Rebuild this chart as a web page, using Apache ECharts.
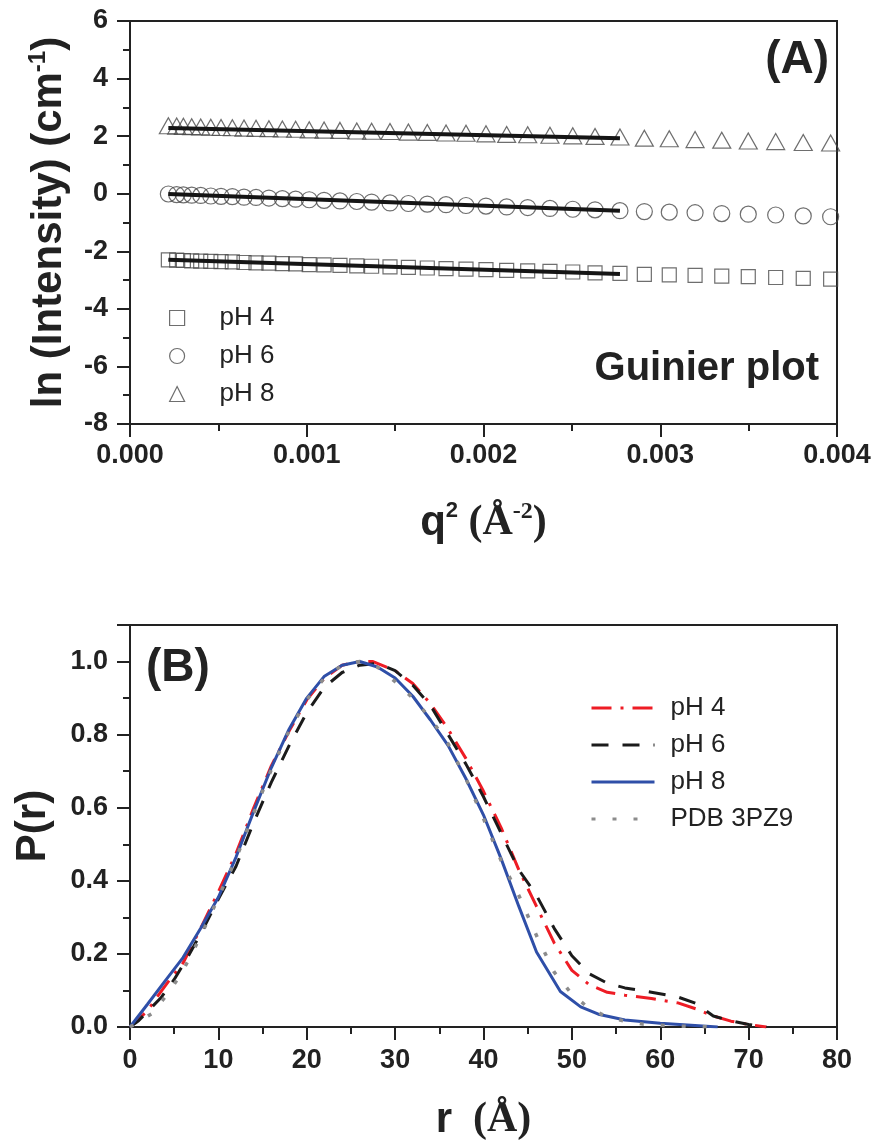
<!DOCTYPE html>
<html>
<head>
<meta charset="utf-8">
<script src="https://cdn.jsdelivr.net/npm/echarts@6/dist/echarts.min.js"></script>
<style>
html, body { margin: 0; padding: 0; background: #fff; }
#chart { width: 880px; height: 1147px; }
</style>
</head>
<body>
<div id="chart"></div>
<script>
// (A) Guinier plot: q^2 positions and ln(I) for each pH
var q2 = [0.000217, 0.000264, 0.000302, 0.000349, 0.000400, 0.000457, 0.000515, 0.000579,
  0.000645, 0.000713, 0.000786, 0.000862, 0.000937, 0.001014, 0.001098, 0.001188, 0.001283,
  0.001367, 0.001471, 0.001575, 0.001682, 0.001788, 0.001901, 0.002014, 0.002131, 0.002250,
  0.002376, 0.002505, 0.002631, 0.002772, 0.002910, 0.003051, 0.003197, 0.003348, 0.003498,
  0.003653, 0.003809, 0.003964];
var lnI_pH4 = [-2.30, -2.31, -2.32, -2.33, -2.34, -2.35, -2.36, -2.37, -2.39, -2.40, -2.41, -2.43,
  -2.44, -2.46, -2.47, -2.49, -2.51, -2.52, -2.54, -2.56, -2.58, -2.60, -2.62, -2.64, -2.66, -2.68,
  -2.70, -2.72, -2.75, -2.77, -2.80, -2.82, -2.84, -2.86, -2.88, -2.91, -2.94, -2.97];
var lnI_pH6 = [-0.01, -0.03, -0.04, -0.05, -0.06, -0.08, -0.09, -0.10, -0.12, -0.13, -0.15, -0.17,
  -0.19, -0.21, -0.23, -0.25, -0.27, -0.29, -0.32, -0.34, -0.36, -0.38, -0.41, -0.43, -0.46, -0.48,
  -0.51, -0.54, -0.56, -0.59, -0.62, -0.64, -0.66, -0.69, -0.71, -0.74, -0.77, -0.80];
var lnI_pH8 = [2.36, 2.35, 2.34, 2.33, 2.32, 2.31, 2.30, 2.29, 2.28, 2.27, 2.26, 2.25, 2.24, 2.22,
  2.21, 2.20, 2.18, 2.17, 2.16, 2.14, 2.13, 2.11, 2.10, 2.08, 2.06, 2.05, 2.03, 2.01, 1.99, 1.97,
  1.93, 1.91, 1.88, 1.86, 1.83, 1.81, 1.78, 1.76];
// linear Guinier fits (end points)
var fitQ2 = [0.000217, 0.002772];
var fit_pH4 = [-2.29, -2.79];
var fit_pH6 = [-0.01, -0.59];
var fit_pH8 = [2.28, 1.93];

// (B) pair distance distribution P(r)
var r_pH4 = [0, 2, 3, 4.5, 6, 8, 10, 12, 14, 16, 18, 20, 22, 24, 26, 27.5, 30, 32, 34, 36, 38, 40,
  42, 44, 46, 48, 50, 52, 54, 56, 59, 62, 64, 66, 68, 70, 72];
var p_pH4 = [0, 0.045, 0.08, 0.13, 0.175, 0.27, 0.37, 0.475, 0.6, 0.715, 0.81, 0.895, 0.955, 0.99,
  1.0, 1.0, 0.975, 0.94, 0.885, 0.815, 0.735, 0.645, 0.545, 0.43, 0.33, 0.23, 0.155, 0.115, 0.095,
  0.087, 0.078, 0.066, 0.05, 0.03, 0.016, 0.007, 0];
var r_pH6 = [0, 1, 3.5, 5, 6.5, 8, 10, 12, 14, 16, 18, 20, 22, 24, 26, 28, 30, 32, 34, 36, 38, 40,
  42, 44, 46, 48, 50, 52, 54, 56, 59, 62, 64, 66, 68, 70, 72];
var p_pH6 = [0, 0.018, 0.08, 0.13, 0.19, 0.255, 0.35, 0.44, 0.56, 0.67, 0.77, 0.86, 0.93, 0.97,
  0.99, 0.995, 0.975, 0.935, 0.88, 0.8, 0.72, 0.63, 0.53, 0.43, 0.36, 0.27, 0.195, 0.145, 0.12,
  0.107, 0.095, 0.082, 0.065, 0.03, 0.017, 0.007, 0];
var r_pH8 = [0, 2, 4, 6, 8, 10, 12, 14, 16, 18, 20, 22, 24, 26, 28, 30, 32, 34, 36, 38, 40, 42, 44,
  46, 48.7, 51, 53, 56, 60, 63.5, 66.5];
var p_pH8 = [0, 0.063, 0.127, 0.19, 0.27, 0.355, 0.465, 0.59, 0.71, 0.815, 0.9, 0.96, 0.99, 1.0,
  0.985, 0.955, 0.905, 0.84, 0.77, 0.68, 0.58, 0.46, 0.33, 0.205, 0.097, 0.055, 0.035, 0.019, 0.01,
  0.005, 0];
var r_pdb = [0, 2.5, 4.3, 5.7, 7, 8, 9, 10, 12, 14, 16, 18, 20, 22, 24, 26, 28, 30, 32, 34, 36, 38,
  40, 42, 44, 46, 48, 50, 52, 54, 56, 58, 61, 64, 66];
var p_pdb = [0, 0.037, 0.092, 0.142, 0.2, 0.25, 0.3, 0.355, 0.46, 0.585, 0.705, 0.81, 0.895, 0.955,
  0.99, 1.0, 0.985, 0.945, 0.9, 0.845, 0.775, 0.68, 0.57, 0.455, 0.36, 0.25, 0.15, 0.09, 0.05,
  0.028, 0.016, 0.008, 0.003, 0.001, 0];

var SANS = "'Liberation Sans', Arial, Helvetica, sans-serif";
var SERIF = "'Liberation Serif', 'Times New Roman', serif";
var INK = '#222';

function pairs(xs, ys) {
  return xs.map(function (x, i) { return [x, ys[i]]; });
}

// common axis look: outward ticks, minor ticks, bold labels
function axisStyle(extra) {
  var a = {
    type: 'value',
    axisLine: { show: true, onZero: false, lineStyle: { color: INK, width: 2 } },
    axisTick: { show: true, inside: false, length: 13, lineStyle: { color: INK, width: 2 } },
    minorTick: { show: true, splitNumber: 2, length: 7, lineStyle: { color: INK, width: 2 } },
    splitLine: { show: false },
    axisLabel: { color: INK, fontFamily: SANS, fontWeight: 'bold', fontSize: 27 },
    nameLocation: 'middle'
  };
  for (var k in extra) a[k] = extra[k];
  return a;
}

var chart = echarts.init(document.getElementById('chart'));

var markerStyle = { color: 'rgba(0,0,0,0)', borderColor: '#4a4a4a', borderWidth: 1.2 };

chart.setOption({
  animation: false,
  grid: [
    { left: 130, right: 43, top: 21, height: 403, show: true, borderColor: INK, borderWidth: 2 },
    { left: 130, right: 43, top: 625, height: 402, show: true, borderColor: INK, borderWidth: 2 }
  ],
  xAxis: [
    axisStyle({
      gridIndex: 0, min: 0, max: 0.004, interval: 0.001,
      axisLabel: { color: INK, fontFamily: SANS, fontWeight: 'bold', fontSize: 27, margin: 18,
        formatter: function (v) { return v.toFixed(3); } },
      name: '{q|q}{s|2}{a| (Å}{t|-2}{a|)}',
      nameGap: 76,
      nameTextStyle: {
        rich: {
          q: { fontFamily: SANS, fontWeight: 'bold', fontSize: 42, lineHeight: 46, color: INK },
          s: { fontFamily: SANS, fontWeight: 'bold', fontSize: 22, lineHeight: 46, verticalAlign: 'top', color: INK },
          a: { fontFamily: SERIF, fontWeight: 'bold', fontSize: 42, lineHeight: 46, color: INK },
          t: { fontFamily: SERIF, fontWeight: 'bold', fontSize: 24, lineHeight: 46, verticalAlign: 'top', color: INK }
        }
      }
    }),
    axisStyle({
      gridIndex: 1, min: 0, max: 80, interval: 10,
      axisLabel: { color: INK, fontFamily: SANS, fontWeight: 'bold', fontSize: 27, margin: 20 },
      name: '{q|r}{a|  (Å)}',
      nameGap: 70,
      nameTextStyle: {
        rich: {
          q: { fontFamily: SANS, fontWeight: 'bold', fontSize: 42, lineHeight: 46, color: INK },
          a: { fontFamily: SERIF, fontWeight: 'bold', fontSize: 42, lineHeight: 46, color: INK }
        }
      }
    })
  ],
  yAxis: [
    axisStyle({
      gridIndex: 0, min: -8, max: 6, interval: 2,
      axisLabel: { color: INK, fontFamily: SANS, fontWeight: 'bold', fontSize: 27, margin: 22 },
      name: '{t|ln (Intensity) (cm}{s|-1}{t|)}',
      nameGap: 58,
      nameTextStyle: {
        rich: {
          t: { fontFamily: SANS, fontWeight: 'bold', fontSize: 42, lineHeight: 46, color: INK },
          s: { fontFamily: SANS, fontWeight: 'bold', fontSize: 24, lineHeight: 46, verticalAlign: 'top', color: INK }
        }
      }
    }),
    axisStyle({
      gridIndex: 1, min: 0, max: 1.1, interval: 0.2,
      axisLabel: { color: INK, fontFamily: SANS, fontWeight: 'bold', fontSize: 27, margin: 22,
        showMaxLabel: false,
        formatter: function (v) { return v.toFixed(1); } },
      name: 'P(r)',
      nameGap: 76,
      nameTextStyle: { fontFamily: SANS, fontWeight: 'bold', fontSize: 42, color: INK }
    })
  ],
  legend: [
    {
      data: ['pH 4', 'pH 6', 'pH 8'],
      orient: 'vertical', left: 164, top: 300,
      itemWidth: 15, itemHeight: 15, itemGap: 12,
      itemStyle: { color: 'rgba(0,0,0,0)', borderColor: '#4a4a4a', borderWidth: 1.2 },
      textStyle: { fontFamily: SANS, fontSize: 26, lineHeight: 26, color: INK, padding: [0, 0, 0, 30] },
      selectedMode: false
    },
    {
      data: ['B pH 4', 'B pH 6', 'B pH 8', 'B PDB 3PZ9'],
      formatter: function (name) { return name.slice(2); },
      orient: 'vertical', left: 585, top: 690,
      itemWidth: 63, itemHeight: 14, itemGap: 11,
      itemStyle: { opacity: 0 },
      lineStyle: { width: 3 },
      textStyle: { fontFamily: SANS, fontSize: 26, lineHeight: 26, color: INK, padding: [0, 0, 0, 11] },
      selectedMode: false
    }
  ],
  graphic: [
    { type: 'text', x: 829, y: 60, style: { text: '(A)', fontFamily: SANS, fontWeight: 'bold',
      fontSize: 46, fill: INK, align: 'right', verticalAlign: 'middle' } },
    { type: 'text', x: 819, y: 369, style: { text: 'Guinier plot', fontFamily: SANS, fontWeight: 'bold',
      fontSize: 40, fill: INK, align: 'right', verticalAlign: 'middle' } },
    { type: 'text', x: 146, y: 668, style: { text: '(B)', fontFamily: SANS, fontWeight: 'bold',
      fontSize: 46, fill: INK, align: 'left', verticalAlign: 'middle' } }
  ],
  series: [
    { name: 'pH 4', type: 'scatter', xAxisIndex: 0, yAxisIndex: 0, data: pairs(q2, lnI_pH4),
      symbol: 'rect', symbolSize: 14, itemStyle: markerStyle, clip: true },
    { name: 'pH 6', type: 'scatter', xAxisIndex: 0, yAxisIndex: 0, data: pairs(q2, lnI_pH6),
      symbol: 'circle', symbolSize: 16, itemStyle: markerStyle, clip: true },
    { name: 'pH 8', type: 'scatter', xAxisIndex: 0, yAxisIndex: 0, data: pairs(q2, lnI_pH8),
      symbol: 'triangle', symbolSize: [18, 16], itemStyle: markerStyle, clip: true },
    { name: 'fit 4', type: 'line', xAxisIndex: 0, yAxisIndex: 0, data: pairs(fitQ2, fit_pH4),
      showSymbol: false, symbol: 'none', lineStyle: { color: '#151515', width: 4 }, z: 5 },
    { name: 'fit 6', type: 'line', xAxisIndex: 0, yAxisIndex: 0, data: pairs(fitQ2, fit_pH6),
      showSymbol: false, symbol: 'none', lineStyle: { color: '#151515', width: 4 }, z: 5 },
    { name: 'fit 8', type: 'line', xAxisIndex: 0, yAxisIndex: 0, data: pairs(fitQ2, fit_pH8),
      showSymbol: false, symbol: 'none', lineStyle: { color: '#151515', width: 4 }, z: 5 },

    { name: 'B pH 4', type: 'line', xAxisIndex: 1, yAxisIndex: 1, data: pairs(r_pH4, p_pH4),
      symbol: 'none', color: '#ee1c25',
      lineStyle: { color: '#ee1c25', width: 3, type: [20, 9, 3, 9] } },
    { name: 'B pH 6', type: 'line', xAxisIndex: 1, yAxisIndex: 1, data: pairs(r_pH6, p_pH6),
      symbol: 'none', color: '#1b1b1b',
      lineStyle: { color: '#1b1b1b', width: 3, type: [17, 14] } },
    { name: 'B pH 8', type: 'line', xAxisIndex: 1, yAxisIndex: 1, data: pairs(r_pH8, p_pH8),
      symbol: 'none', color: '#2f4fa8',
      lineStyle: { color: '#2f4fa8', width: 3 } },
    { name: 'B PDB 3PZ9', type: 'line', xAxisIndex: 1, yAxisIndex: 1, data: pairs(r_pdb, p_pdb),
      symbol: 'none', color: '#8c8c8c',
      lineStyle: { color: '#8c8c8c', width: 3.5, type: [4, 17] } }
  ]
});
</script>
</body>
</html>
